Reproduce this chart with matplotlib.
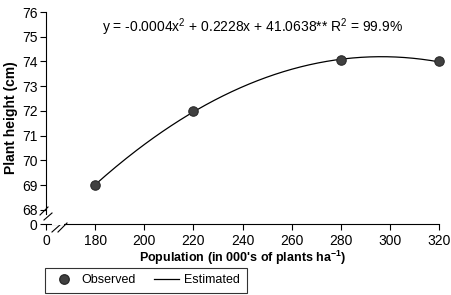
import numpy as np
import matplotlib
matplotlib.use("Agg")
import matplotlib.pyplot as plt
from matplotlib.lines import Line2D

plt.rcParams['font.family'] = ['Liberation Sans Narrow', 'Liberation Sans', 'DejaVu Sans']
plt.rcParams['font.size'] = 10

# observed data
population = [180, 220, 280, 320]
height = [69.0, 72.0, 74.05, 74.0]

x_ticks = [0, 180, 200, 220, 240, 260, 280, 300, 320]
y_ticks = [68, 69, 70, 71, 72, 73, 74, 75, 76]
y_zero = 67.43   # where the broken "0" sits on the y axis

equation = "y = -0.0004x$^{\\mathregular{2}}$ + 0.2228x + 41.0638** R$^{\\mathregular{2}}$ = 99.9%"


def xpos(v):
    # broken x axis: 0 then 180..320 in equal steps
    v = np.asarray(v, dtype=float)
    return np.where(v == 0, 0.0, (v - 160) / 20.0)


coef = np.polyfit(population, height, 2)
xs = np.linspace(population[0], population[-1], 200)
ys = np.polyval(coef, xs)

fig = plt.figure(figsize=(4.51, 2.95), dpi=100)
ax = fig.add_axes([46 / 451, 1 - 224 / 295, 393 / 451, 212 / 295])

ax.plot(xpos(xs), ys, color='black', lw=0.9, zorder=2)
ax.plot(xpos(population), height, 'o', ms=6.8, mfc='#404040', mec='#2a2a2a',
        mew=0.8, zorder=3, clip_on=False)

ax.set_xlim(0, 8)
ax.set_ylim(y_zero, 76)
ax.set_xticks(xpos(x_ticks))
ax.set_xticklabels([str(v) for v in x_ticks])
ax.set_yticks([y_zero] + y_ticks)
ax.set_yticklabels(['0'] + [str(v) for v in y_ticks])
ax.tick_params(direction='out', length=4, width=0.8, pad=2)
ax.tick_params(axis='x', pad=3)

for s in ['top', 'right']:
    ax.spines[s].set_visible(False)
ax.spines['left'].set_bounds(67.85, 76)
ax.spines['left'].set_linewidth(0.8)
ax.spines['bottom'].set_linewidth(0.8)

# break marks
def seg(x0, y0, x1, y1):
    ax.add_line(Line2D([x0, x1], [y0, y1], color='black', lw=0.8,
                       transform=fig.transFigure, clip_on=False))

W, H = 451, 295
for (a, b, c, d) in [(40, 215, 48, 207), (44, 220, 52, 213),
                     (52, 232, 61, 224), (58, 232, 67, 223)]:
    seg(a / W, 1 - b / H, c / W, 1 - d / H)
# gap in x axis
ax.add_line(Line2D([53 / W, 63 / W], [1 - 224 / H, 1 - 224 / H], color='white',
                   lw=1.5, transform=fig.transFigure, clip_on=False, zorder=5))

ax.text(253 / W, 1 - 27 / H, equation, transform=fig.transFigure,
        ha='center', va='center', fontsize=10)

ax.set_ylabel('Plant height (cm)', fontweight='bold', labelpad=3)
ax.text(243 / W, 1 - 258 / H,
        'Population (in 000\'s of plants ha$^{\\mathregular{-1}}$)',
        transform=fig.transFigure, ha='center', va='center',
        fontweight='bold', fontsize=9)

handles = [Line2D([], [], marker='o', ls='none', ms=6.8, mfc='#404040', mec='#2a2a2a'),
           Line2D([], [], color='black', lw=0.9)]
leg = fig.legend(handles, ['Observed', 'Estimated'], loc='upper left',
                 bbox_to_anchor=(45 / W, 1 - 268 / H), ncol=2, frameon=True,
                 fancybox=False, edgecolor='black', handlelength=2.0,
                 columnspacing=1.5, handletextpad=0.4, borderpad=0.5,
                 borderaxespad=0, fontsize=9)
leg.get_frame().set_linewidth(0.8)

fig.savefig('out.png', dpi=100)
